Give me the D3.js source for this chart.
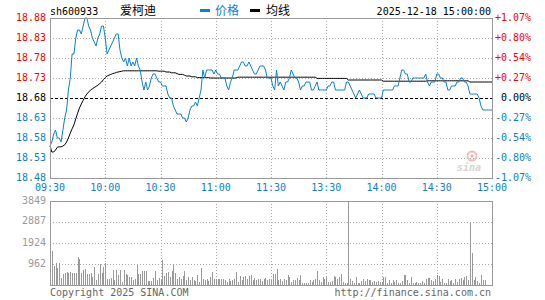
<!DOCTYPE html>
<html>
<head>
<meta charset="utf-8">
<script src="https://cdn.jsdelivr.net/npm/d3@7"></script>
<style>
  body { margin: 0; background: #fff; }
  text { font-family: "DejaVu Sans Mono", monospace; font-size: 10px; }
</style>
</head>
<body>
<div id="chart"></div>
<script>
// data
const code = 'sh600933'
const name = '爱柯迪'
const stamp = '2025-12-18 15:00:00'
const prevClose = 18.68

const timeLabels = ['09:30', '10:00', '10:30', '11:00', '11:30', '13:30', '14:00', '14:30', '15:00']
const priceTicks = [18.88, 18.83, 18.78, 18.73, 18.68, 18.63, 18.58, 18.53, 18.48]
const pctTicks = ['+1.07%', '+0.80%', '+0.54%', '+0.27%', '0.00%', '-0.27%', '-0.54%', '-0.80%', '-1.07%']
const volTicks = [962, 1924, 2887, 3849]

const price = [
  18.56, 18.57, 18.59, 18.60, 18.58, 18.58, 18.57, 18.60, 18.63, 18.65,
  18.70, 18.73, 18.79, 18.79, 18.83, 18.85, 18.85, 18.84, 18.86, 18.88,
  18.88, 18.86, 18.85, 18.83, 18.82, 18.81, 18.83, 18.84, 18.86, 18.86,
  18.83, 18.79, 18.80, 18.81, 18.82, 18.83, 18.84, 18.84, 18.80, 18.78,
  18.77, 18.78, 18.76, 18.78, 18.76, 18.77, 18.76, 18.78, 18.76, 18.75,
  18.72, 18.70, 18.72, 18.70, 18.71, 18.73, 18.74, 18.74, 18.73, 18.72,
  18.72, 18.71, 18.71, 18.71, 18.69, 18.68, 18.68, 18.66, 18.65, 18.64,
  18.64, 18.64, 18.63, 18.63, 18.62, 18.63, 18.65, 18.66, 18.66, 18.67,
  18.66, 18.68, 18.70, 18.75, 18.73, 18.75, 18.75, 18.75, 18.75, 18.74,
  18.75, 18.74, 18.74, 18.73, 18.73, 18.73, 18.71, 18.70, 18.72, 18.73,
  18.75, 18.75, 18.75, 18.76, 18.77, 18.77, 18.76, 18.76, 18.77, 18.76,
  18.75, 18.74, 18.74, 18.75, 18.76, 18.76, 18.76, 18.75, 18.73, 18.73,
  18.73, 18.71, 18.70, 18.75, 18.71, 18.72, 18.71, 18.70, 18.72, 18.72,
  18.73, 18.75, 18.74, 18.73, 18.73, 18.72, 18.70, 18.71, 18.71, 18.72,
  18.72, 18.72, 18.70, 18.70, 18.71, 18.72, 18.70, 18.70, 18.70, 18.70,
  18.70, 18.71, 18.71, 18.72, 18.72, 18.70, 18.70, 18.70, 18.70, 18.70,
  18.70, 18.72, 18.72, 18.71, 18.70, 18.69, 18.68, 18.69, 18.70, 18.69,
  18.68, 18.68, 18.68, 18.69, 18.69, 18.69, 18.69, 18.68, 18.68, 18.68,
  18.68, 18.70, 18.70, 18.70, 18.70, 18.70, 18.70, 18.71, 18.71, 18.71,
  18.73, 18.75, 18.75, 18.74, 18.74, 18.72, 18.72, 18.73, 18.73, 18.73,
  18.73, 18.73, 18.73, 18.73, 18.74, 18.72, 18.71, 18.72, 18.72, 18.72,
  18.74, 18.74, 18.73, 18.73, 18.72, 18.72, 18.70, 18.70, 18.71, 18.71,
  18.71, 18.72, 18.72, 18.73, 18.73, 18.72, 18.72, 18.71, 18.69, 18.69,
  18.69, 18.69, 18.69, 18.68, 18.66, 18.65, 18.65, 18.65, 18.65, 18.65,
  18.65
]

const avg = [
  18.560, 18.545, 18.545, 18.550, 18.557, 18.558, 18.558, 18.560, 18.563, 18.570,
  18.580, 18.592, 18.603, 18.613, 18.628, 18.642, 18.655, 18.665, 18.674, 18.683,
  18.690, 18.695, 18.700, 18.703, 18.706, 18.709, 18.712, 18.716, 18.720, 18.726,
  18.731, 18.735, 18.737, 18.739, 18.741, 18.742, 18.744, 18.745, 18.746, 18.747,
  18.748, 18.748, 18.748, 18.748, 18.748, 18.748, 18.748, 18.748, 18.748, 18.748,
  18.748, 18.748, 18.748, 18.748, 18.748, 18.748, 18.748, 18.748, 18.748, 18.747,
  18.747, 18.747, 18.747, 18.745, 18.745, 18.745, 18.743, 18.743, 18.743, 18.741,
  18.739, 18.739, 18.739, 18.737, 18.735, 18.735, 18.735, 18.733, 18.733, 18.733,
  18.731, 18.731, 18.731, 18.731, 18.731, 18.731, 18.731, 18.730, 18.730, 18.730,
  18.730, 18.730, 18.730, 18.730, 18.730, 18.730, 18.730, 18.730, 18.730, 18.730,
  18.730, 18.730, 18.732, 18.732, 18.732, 18.732, 18.732, 18.732, 18.732, 18.732,
  18.732, 18.732, 18.732, 18.732, 18.732, 18.732, 18.732, 18.732, 18.732, 18.732,
  18.732, 18.732, 18.732, 18.732, 18.732, 18.732, 18.732, 18.732, 18.732, 18.732,
  18.732, 18.732, 18.732, 18.732, 18.732, 18.732, 18.732, 18.732, 18.732, 18.732,
  18.732, 18.732, 18.732, 18.732, 18.732, 18.729, 18.729, 18.729, 18.729, 18.729,
  18.729, 18.729, 18.729, 18.729, 18.729, 18.729, 18.729, 18.729, 18.729, 18.729,
  18.729, 18.729, 18.725, 18.725, 18.725, 18.725, 18.725, 18.725, 18.725, 18.725,
  18.725, 18.725, 18.725, 18.725, 18.725, 18.725, 18.725, 18.725, 18.725, 18.725,
  18.725, 18.722, 18.722, 18.722, 18.722, 18.722, 18.722, 18.722, 18.722, 18.722,
  18.722, 18.722, 18.722, 18.722, 18.722, 18.722, 18.722, 18.722, 18.722, 18.722,
  18.722, 18.722, 18.722, 18.722, 18.722, 18.723, 18.723, 18.723, 18.723, 18.723,
  18.723, 18.723, 18.723, 18.723, 18.723, 18.723, 18.723, 18.723, 18.723, 18.723,
  18.723, 18.723, 18.723, 18.723, 18.723, 18.723, 18.723, 18.723, 18.720, 18.720,
  18.720, 18.720, 18.720, 18.720, 18.720, 18.720, 18.720, 18.720, 18.720, 18.720,
  18.720
]

const volume = [
  305, 1557, 870, 990, 795, 990, 335, 520, 550, 580,
  565, 610, 565, 565, 550, 1267, 1190, 550, 687, 718,
  520, 490, 565, 366, 825, 244, 504, 962, 550, 810,
  990, 290, 290, 320, 672, 230, 687, 458, 687, 137,
  672, 520, 443, 366, 350, 230, 275, 930, 504, 504,
  657, 657, 641, 183, 198, 198, 320, 640, 244, 320,
  244, 1160, 397, 550, 596, 366, 641, 977, 550, 275,
  366, 275, 428, 657, 244, 366, 214, 366, 214, 168,
  473, 122, 794, 275, 214, 275, 168, 366, 596, 275,
  290, 275, 275, 275, 275, 214, 153, 275, 168, 214,
  275, 596, 153, 428, 244, 366, 397, 275, 428, 473,
  214, 305, 244, 275, 275, 168, 275, 305, 244, 275,
  214, 504, 504, 733, 244, 275, 168, 275, 214, 473,
  366, 153, 214, 214, 320, 244, 458, 107, 107, 107,
  107, 229, 153, 229, 260, 641, 229, 153, 351, 260,
  351, 122, 137, 198, 412, 351, 260, 351, 489, 153,
  107, 107, 3817, 260, 198, 107, 351, 107, 107, 198,
  260, 198, 260, 229, 229, 153, 198, 153, 198, 153,
  153, 351, 351, 107, 229, 107, 229, 153, 229, 107,
  107, 198, 458, 458, 229, 107, 351, 107, 107, 153,
  107, 107, 198, 107, 260, 305, 305, 229, 198, 260,
  458, 412, 137, 260, 107, 107, 260, 198, 229, 107,
  260, 137, 260, 305, 229, 351, 412, 229, 2856, 1451,
  229, 351, 198, 107, 470, 230, 230, 0, 0, 0,
  0
]

//dimensions
const width = 545
const height = 300
const left = 50
const right = 492
const priceTop = 18
const priceBottom = 178
const volTop = 201
const volBottom = 285

const blue = '#0d7fd3'
const red = '#ff0000'
const gridColor = '#aaaaaa'
const frameColor = '#999999'

const svg = d3.select('#chart')
  .append('svg')
  .attr('width', width)
  .attr('height', height)

//scales
const x = d3.scaleLinear()
  .domain([0, price.length - 1])
  .range([left, right])

const y = d3.scaleLinear()
  .domain([18.48, 18.88])
  .range([priceBottom, priceTop])

const yVol = d3.scaleLinear()
  .domain([0, 3849])
  .range([volBottom, volTop])

const tickIndex = timeLabels.map((d, i) => i * 30)
const px = v => Math.round(v) + 0.5
const labelColor = v => v > prevClose + 1e-9 ? red : (v < prevClose - 1e-9 ? blue : '#000')

//price grid
const grid = svg.append('g')
  .attr('stroke', gridColor)
  .attr('stroke-dasharray', '1,2')

grid.selectAll('.hp')
  .data(priceTicks.filter(d => d !== 18.88 && d !== 18.48 && d !== prevClose))
  .join('line')
  .attr('x1', left).attr('x2', right)
  .attr('y1', d => px(y(d))).attr('y2', d => px(y(d)))

grid.selectAll('.vp')
  .data(tickIndex.slice(1, -1))
  .join('line')
  .attr('x1', d => px(x(d))).attr('x2', d => px(x(d)))
  .attr('y1', priceTop).attr('y2', priceBottom)

//volume grid
grid.selectAll('.hv')
  .data(volTicks.slice(0, -1))
  .join('line')
  .attr('class', 'hv')
  .attr('x1', left).attr('x2', right)
  .attr('y1', d => px(yVol(d))).attr('y2', d => px(yVol(d)))

grid.selectAll('.vv')
  .data(tickIndex.slice(1, -1))
  .join('line')
  .attr('class', 'vv')
  .attr('x1', d => px(x(d))).attr('x2', d => px(x(d)))
  .attr('y1', volTop).attr('y2', volBottom)

//previous close line
svg.append('line')
  .attr('x1', left).attr('x2', right)
  .attr('y1', px(y(prevClose))).attr('y2', px(y(prevClose)))
  .attr('stroke', '#000')
  .attr('stroke-dasharray', '3,2')

//watermark
const mark = svg.append('g').attr('transform', 'translate(457,171)')
mark.append('text')
  .text('sina')
  .attr('font-family', 'Verdana, "DejaVu Sans", sans-serif')
  .attr('font-size', 17)
  .attr('font-weight', 'bold')
  .attr('font-style', 'italic')
  .attr('fill', '#d4d4d4')
mark.append('circle')
  .attr('cx', 15).attr('cy', -15).attr('r', 4.5)
  .attr('fill', 'none')
  .attr('stroke', '#f0bcbc')
  .attr('stroke-width', 2)
mark.append('circle')
  .attr('cx', 15).attr('cy', -15).attr('r', 1.5)
  .attr('fill', '#e8a8a8')

//volume bars
svg.append('g')
  .attr('fill', '#999')
  .selectAll('rect')
  .data(volume)
  .join('rect')
  .attr('x', (d, i) => Math.round(x(i)))
  .attr('width', 1)
  .attr('y', d => Math.round(yVol(d)))
  .attr('height', d => volBottom - Math.round(yVol(d)))

//lines
svg.append('path')
  .datum(avg)
  .attr('fill', 'none')
  .attr('stroke', '#000')
  .attr('stroke-width', 1)
  .attr('d', d3.line().x((d, i) => x(i)).y(d => y(d)))

svg.append('path')
  .datum(price)
  .attr('fill', 'none')
  .attr('stroke', blue)
  .attr('stroke-width', 1)
  .attr('d', d3.line().x((d, i) => x(i)).y(d => y(d)))

//frames
svg.append('rect')
  .attr('x', left + 0.5).attr('y', priceTop + 0.5)
  .attr('width', right - left).attr('height', priceBottom - priceTop)
  .attr('fill', 'none').attr('stroke', frameColor)

svg.append('rect')
  .attr('x', left + 0.5).attr('y', volTop + 0.5)
  .attr('width', right - left).attr('height', volBottom - volTop)
  .attr('fill', 'none').attr('stroke', frameColor)

//axis labels
svg.append('g')
  .selectAll('text')
  .data(priceTicks)
  .join('text')
  .attr('x', 46)
  .attr('y', d => y(d))
  .attr('dy', '0.3em')
  .attr('text-anchor', 'end')
  .attr('fill', d => labelColor(d))
  .text(d => d.toFixed(2))

svg.append('g')
  .selectAll('text')
  .data(pctTicks)
  .join('text')
  .attr('x', 531)
  .attr('y', (d, i) => y(priceTicks[i]))
  .attr('dy', '0.3em')
  .attr('text-anchor', 'end')
  .attr('fill', (d, i) => labelColor(priceTicks[i]))
  .text(d => d)

svg.append('g')
  .selectAll('text')
  .data(timeLabels)
  .join('text')
  .attr('x', (d, i) => x(tickIndex[i]))
  .attr('y', 191)
  .attr('text-anchor', 'middle')
  .attr('fill', blue)
  .text(d => d)

svg.append('g')
  .selectAll('text')
  .data(volTicks)
  .join('text')
  .attr('x', 46)
  .attr('y', d => yVol(d))
  .attr('dy', '0.25em')
  .attr('text-anchor', 'end')
  .attr('fill', '#999')
  .text(d => d)

//header
svg.append('text').attr('x', 50).attr('y', 15).attr('fill', '#000').text(code)
svg.append('text').attr('x', 120).attr('y', 15).attr('fill', '#000')
  .style('font-family', '"Noto Sans CJK SC", sans-serif').style('font-size', '12px').text(name)
svg.append('rect').attr('x', 200).attr('y', 9).attr('width', 10).attr('height', 3).attr('fill', blue)
svg.append('text').attr('x', 215).attr('y', 15).attr('fill', blue)
  .style('font-family', '"Noto Sans CJK SC", sans-serif').style('font-size', '12px').text('价格')
svg.append('rect').attr('x', 250).attr('y', 9).attr('width', 10).attr('height', 3).attr('fill', '#000')
svg.append('text').attr('x', 266).attr('y', 15).attr('fill', '#000')
  .style('font-family', '"Noto Sans CJK SC", sans-serif').style('font-size', '12px').text('均线')
svg.append('text').attr('x', 491).attr('y', 15).attr('text-anchor', 'end').attr('fill', '#000').text(stamp)

//footer
svg.append('text').attr('x', 50).attr('y', 296).attr('fill', '#666').text('Copyright 2025 SINA.COM')
svg.append('text').attr('x', 491).attr('y', 296).attr('text-anchor', 'end').attr('fill', '#666').text('http://finance.sina.com.cn')
</script>
</body>
</html>
